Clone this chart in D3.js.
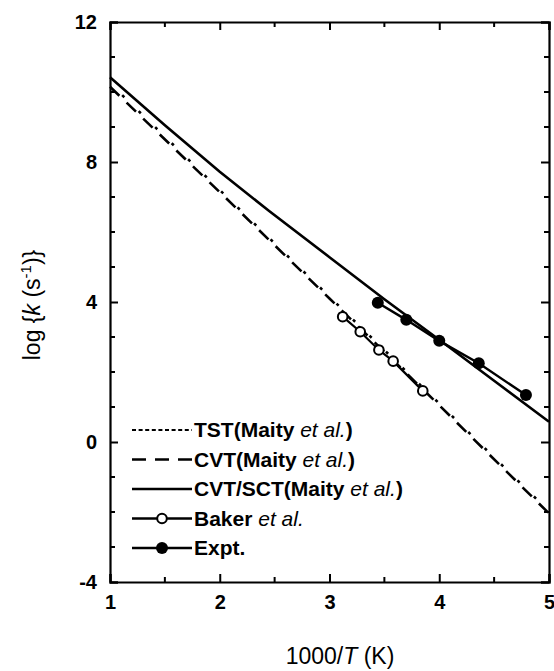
<!DOCTYPE html>
<html>
<head>
<meta charset="utf-8">
<script src="https://cdn.jsdelivr.net/npm/d3@7"></script>
<style>
  body { margin: 0; background: #fff; }
  svg { display: block; font-family: "Liberation Sans", Arial, sans-serif; }
</style>
</head>
<body>
<div id="chart"></div>
<script>
// values
var tstX = [1.0, 2.0, 3.0, 4.0, 5.0];
var tstY = [10.25, 7.2, 4.15, 1.1, -1.98];
var cvtX = [1.0, 2.0, 3.0, 4.0, 5.0];
var cvtY = [10.15, 7.14, 4.1, 1.05, -2.04];
var sctX = [1.0, 1.5, 2.0, 2.45, 3.0, 3.5, 4.0, 4.5, 5.0];
var sctY = [10.42, 9.05, 7.72, 6.6, 5.28, 4.08, 2.92, 1.75, 0.58];
var bakerX = [3.12, 3.28, 3.45, 3.58, 3.85];
var bakerY = [3.58, 3.15, 2.63, 2.31, 1.46];
var exptX = [3.44, 3.70, 4.0, 4.36, 4.79];
var exptY = [3.98, 3.49, 2.89, 2.25, 1.34];
var xMajor = [1, 2, 3, 4, 5];
var yMajor = [-4, 0, 4, 8, 12];
var legendNames = ["TST", "CVT", "CVT/SCT", "Baker", "Expt."];

var w = 554, h = 671
    , marginLeft = 110, marginRight = 5, marginTop = 22, marginBottom = 89
    , contentsWidth = w - marginLeft - marginRight, contentsHeight = h - marginTop - marginBottom;

var svg = d3.select("#chart").append("svg")
    .attr("width", w)
    .attr("height", h);

var g = svg.append("g")
    .attr("transform", "translate(" + marginLeft + "," + marginTop + ")");

var xScale = d3.scaleLinear().domain([1, 5]).range([0, contentsWidth]);
var yScale = d3.scaleLinear().domain([-4, 12]).range([contentsHeight, 0]);

var xMinor = d3.range(1.5, 5, 1);
var yMinor = d3.range(-3, 12, 1).filter(function(v) { return v % 4 != 0; });

var plainFormat = function(d) { return String(d); };

// axes, ticks inside on all four sides
var axisBottom = d3.axisBottom(xScale).tickValues(xMajor).tickSize(-8).tickPadding(13).tickFormat(plainFormat);
var axisTop = d3.axisTop(xScale).tickValues(xMajor).tickSize(-8).tickFormat("");
var axisLeft = d3.axisLeft(yScale).tickValues(yMajor).tickSize(-8).tickPadding(13).tickFormat(plainFormat);
var axisRight = d3.axisRight(yScale).tickValues(yMajor).tickSize(-8).tickFormat("");

function styleAxis(sel) {
  sel.select(".domain").attr("stroke", "#000").attr("stroke-width", 2.2);
  sel.selectAll(".tick line").attr("stroke", "#000").attr("stroke-width", 2);
  sel.selectAll(".tick text")
      .attr("fill", "#000")
      .style("font-size", "20px")
      .style("font-weight", "bold");
}

g.append("g").attr("transform", "translate(0," + contentsHeight + ")").call(axisBottom).call(styleAxis);
g.append("g").call(axisTop).call(styleAxis);
g.append("g").call(axisLeft).call(styleAxis);
g.append("g").attr("transform", "translate(" + contentsWidth + ",0)").call(axisRight).call(styleAxis);

// minor ticks
var minor = g.append("g").attr("stroke", "#000").attr("stroke-width", 2);
xMinor.forEach(function(v) {
  minor.append("line").attr("x1", xScale(v)).attr("x2", xScale(v)).attr("y1", contentsHeight).attr("y2", contentsHeight - 5);
  minor.append("line").attr("x1", xScale(v)).attr("x2", xScale(v)).attr("y1", 0).attr("y2", 5);
});
yMinor.forEach(function(v) {
  minor.append("line").attr("x1", 0).attr("x2", 5).attr("y1", yScale(v)).attr("y2", yScale(v));
  minor.append("line").attr("x1", contentsWidth).attr("x2", contentsWidth - 5).attr("y1", yScale(v)).attr("y2", yScale(v));
});

var line = d3.line()
    .x(function(d) { return xScale(d[0]); })
    .y(function(d) { return yScale(d[1]); });

function pairs(xs, ys) {
  return xs.map(function(x, i) { return [x, ys[i]]; });
}

// TST and CVT overlap; together they give the dash-dot look
g.append("path").datum(pairs(cvtX, cvtY))
    .attr("d", line).attr("fill", "none").attr("stroke", "#000").attr("stroke-width", 2.6)
    .attr("stroke-dasharray", "13,10");
g.append("path").datum(pairs(tstX, tstY))
    .attr("d", line).attr("fill", "none").attr("stroke", "#000").attr("stroke-width", 2.6)
    .attr("stroke-dasharray", "3,20").attr("stroke-dashoffset", -17);
g.append("path").datum(pairs(sctX, sctY))
    .attr("d", line).attr("fill", "none").attr("stroke", "#000").attr("stroke-width", 2.6);

g.append("path").datum(pairs(bakerX, bakerY))
    .attr("d", line).attr("fill", "none").attr("stroke", "#000").attr("stroke-width", 2.2);
g.append("path").datum(pairs(exptX, exptY))
    .attr("d", line).attr("fill", "none").attr("stroke", "#000").attr("stroke-width", 2.4);

g.append("g").selectAll("circle").data(pairs(bakerX, bakerY)).enter().append("circle")
    .attr("cx", function(d) { return xScale(d[0]); })
    .attr("cy", function(d) { return yScale(d[1]); })
    .attr("r", 4.8).attr("fill", "#fff").attr("stroke", "#000").attr("stroke-width", 2);
g.append("g").selectAll("circle").data(pairs(exptX, exptY)).enter().append("circle")
    .attr("cx", function(d) { return xScale(d[0]); })
    .attr("cy", function(d) { return yScale(d[1]); })
    .attr("r", 6).attr("fill", "#000");

// legend
var legend = svg.append("g").attr("transform", "translate(132,430)");
var rowH = 29.5;
legendNames.forEach(function(name, i) {
  var row = legend.append("g").attr("transform", "translate(0," + (i * rowH) + ")");
  var ln = row.append("line").attr("x1", 0).attr("x2", 60).attr("y1", 0).attr("y2", 0)
      .attr("stroke", "#000").attr("stroke-width", 2.4);
  if (i == 0) ln.attr("stroke-dasharray", "4,2.6").attr("stroke-width", 2);
  if (i == 1) ln.attr("stroke-dasharray", "14,9");
  if (i == 3) row.append("circle").attr("cx", 30).attr("cy", 0).attr("r", 4.8)
      .attr("fill", "#fff").attr("stroke", "#000").attr("stroke-width", 2);
  if (i == 4) row.append("circle").attr("cx", 30).attr("cy", 0).attr("r", 6).attr("fill", "#000");

  var t = row.append("text").attr("x", 62).attr("y", 7)
      .style("font-size", "21px").style("font-weight", "bold").attr("fill", "#000");
  if (i < 3) {
    t.append("tspan").text(name + "(Maity ");
    t.append("tspan").style("font-style", "italic").style("font-weight", "normal").text("et al.");
    t.append("tspan").text(")");
  } else if (i == 3) {
    t.append("tspan").text(name + " ");
    t.append("tspan").style("font-style", "italic").style("font-weight", "normal").text("et al.");
  } else {
    t.text(name);
  }
});

// axis titles
var xt = svg.append("text")
    .attr("x", 340).attr("y", 664)
    .attr("text-anchor", "middle")
    .style("font-size", "23px");
xt.append("tspan").text("1000/");
xt.append("tspan").style("font-style", "italic").text("T");
xt.append("tspan").text(" (K)");

var yt = svg.append("text")
    .attr("transform", "translate(40,305) rotate(-90)")
    .attr("text-anchor", "middle")
    .style("font-size", "23px");
yt.append("tspan").text("log {");
yt.append("tspan").style("font-style", "italic").text("k");
yt.append("tspan").text(" (s");
yt.append("tspan").attr("dy", -9).style("font-size", "15px").text("-1");
yt.append("tspan").attr("dy", 9).text(")}");
</script>
</body>
</html>
